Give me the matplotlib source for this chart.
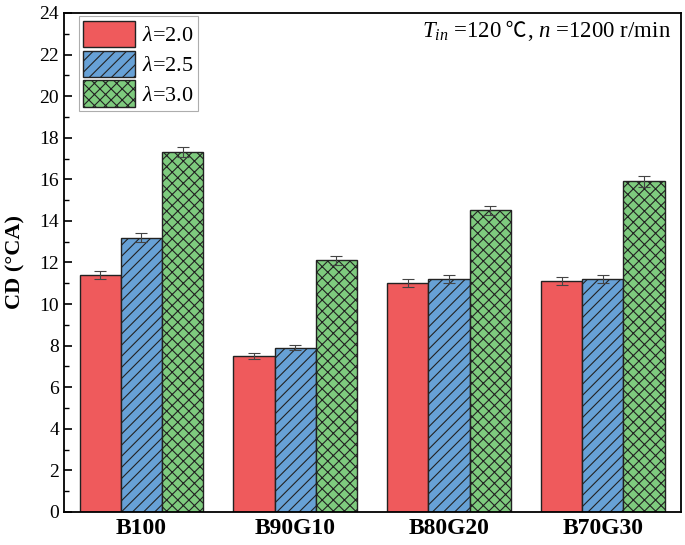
import numpy as np
import matplotlib
matplotlib.use("Agg")
import matplotlib.pyplot as plt
from matplotlib.ticker import MultipleLocator
from matplotlib.offsetbox import TextArea, HPacker, AnchoredOffsetbox

plt.rcParams['font.family'] = ['Liberation Serif', 'DejaVu Sans']
plt.rcParams['mathtext.fontset'] = 'custom'
plt.rcParams['mathtext.rm'] = 'Liberation Serif'
plt.rcParams['mathtext.it'] = 'Liberation Serif:italic'
plt.rcParams['mathtext.bf'] = 'Liberation Serif:bold'
plt.rcParams['hatch.linewidth'] = 0.8

# data
fuels = ["B100", "B90G10", "B80G20", "B70G30"]
lambdas = ["2.0", "2.5", "3.0"]
cd_l20 = [11.4, 7.5, 11.0, 11.1]
cd_l25 = [13.2, 7.9, 11.2, 11.2]
cd_l30 = [17.3, 12.1, 14.5, 15.9]
err_l20 = [0.2, 0.15, 0.2, 0.2]
err_l25 = [0.2, 0.12, 0.2, 0.2]
err_l30 = [0.25, 0.2, 0.2, 0.25]

colors = ['#EF5A5C', '#67A1D6', '#7ECB7E']
hatches = ['', '///', 'xxx']

fig = plt.figure(figsize=(6.85, 5.45), dpi=100)
ax = fig.add_axes([0.0934, 0.0606, 0.9006, 0.9156])

x = np.arange(len(fuels))
width = 0.268
series = [cd_l20, cd_l25, cd_l30]
errs = [err_l20, err_l25, err_l30]
for i in range(3):
    ax.bar(x + (i - 1) * width, series[i], width, color=colors[i], hatch=hatches[i],
           edgecolor='#222222', linewidth=1.0, label=r"$\lambda$=" + lambdas[i])
    ax.errorbar(x + (i - 1) * width, series[i], yerr=errs[i], fmt='none',
                ecolor='#444444', elinewidth=0.8, capsize=4.5, capthick=0.8)

ax.set_xlim(-0.504, 3.508)
ax.set_ylim(0, 24)
ax.set_xticks(x)
ax.set_xticklabels(fuels, fontsize=17, fontweight='bold')
ax.tick_params(axis='x', length=0, pad=4)
ax.yaxis.set_major_locator(MultipleLocator(2))
ax.yaxis.set_minor_locator(MultipleLocator(1))
ax.tick_params(axis='y', which='major', direction='in', length=6, width=1.2, labelsize=14)
ax.tick_params(axis='y', which='minor', direction='in', length=3.5, width=1.0)
for s in ax.spines.values():
    s.set_linewidth(1.3)
ax.set_ylabel("CD (°CA)", fontsize=16, fontweight='bold', labelpad=10)

leg = ax.legend(loc='upper left', fontsize=16, frameon=True, fancybox=False,
                edgecolor='#999999', handlelength=2.35, handleheight=1.45,
                handletextpad=0.3, labelspacing=0.15, borderpad=0.2,
                borderaxespad=0.0, bbox_to_anchor=(0.024, 0.993))
leg.get_frame().set_linewidth(0.8)

# condition note, split so the ℃ sign can come from a CJK font
tp = dict(fontsize=16.5)
parts = [TextArea(r"$T_{in}$ =120", textprops=tp),
         TextArea(" ℃", textprops=dict(fontsize=15, family=['Noto Sans CJK SC', 'DejaVu Sans'],
                                       fontweight='light')),
         TextArea(r", $n$ =1200 r/min", textprops=tp)]
box = HPacker(children=parts, align='baseline', pad=0, sep=0)
anc = AnchoredOffsetbox(loc='upper right', child=box, frameon=False,
                        bbox_to_anchor=(0.984, 0.985), bbox_transform=ax.transAxes,
                        borderpad=0, pad=0)
ax.add_artist(anc)

fig.savefig("out.png", dpi=100)
